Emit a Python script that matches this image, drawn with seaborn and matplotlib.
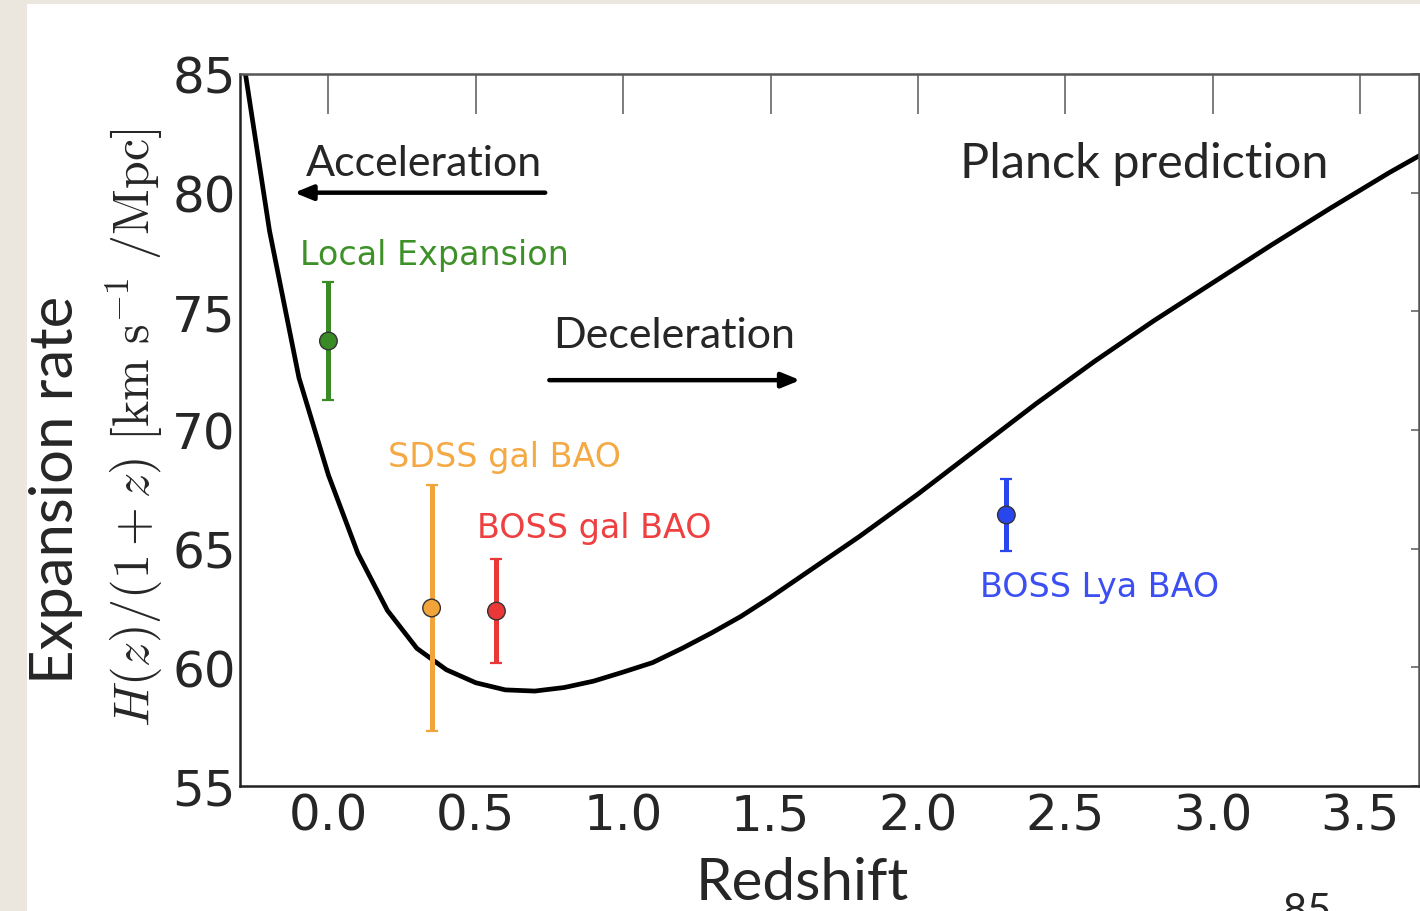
import matplotlib
matplotlib.use("Agg")
import matplotlib.pyplot as plt
from matplotlib.patches import Rectangle
import pandas as pd
import seaborn as sns

# Planck prediction curve
redshift = [-0.3, -0.2, -0.1, 0.0, 0.1, 0.2, 0.3, 0.4, 0.5, 0.6, 0.7, 0.8,
            0.9, 1.0, 1.1, 1.2, 1.3, 1.4, 1.5, 1.6, 1.7, 1.8, 1.9, 2.0, 2.2,
            2.4, 2.6, 2.8, 3.0, 3.2, 3.4, 3.6, 3.7]
expansion = [86.5, 78.4, 72.2, 68.1, 64.8, 62.4, 60.8, 59.9, 59.35, 59.05, 59.0,
             59.15, 59.42, 59.8, 60.2, 60.8, 61.45, 62.15, 62.95, 63.8, 64.65,
             65.5, 66.4, 67.3, 69.2, 71.1, 72.9, 74.6, 76.2, 77.8, 79.35, 80.85,
             81.55]

# measurements
meas_names = ["Local Expansion", "SDSS gal BAO", "BOSS gal BAO", "BOSS Lya BAO"]
meas_z = [0.0, 0.35, 0.57, 2.30]
meas_h = [73.75, 62.5, 62.37, 66.42]
meas_err = [2.48, 5.2, 2.2, 1.5]
meas_colors = ["#3a8b26", "#f2a43a", "#ea3838", "#2846ee"]
label_colors = ["#3d9128", "#f5a945", "#ee4040", "#3b4ff2"]

x_ticks = [0.0, 0.5, 1.0, 1.5, 2.0, 2.5, 3.0, 3.5]
y_ticks = [55, 60, 65, 70, 75, 80, 85]

sns.set_style("white")
plt.rcParams["font.family"] = ["DejaVu Sans"]
plt.rcParams["mathtext.fontset"] = "cm"

W, H = 1420, 912
fig = plt.figure(figsize=(W / 100, H / 100), dpi=100)
fig.patch.set_facecolor("#ebe7de")
fig.add_artist(Rectangle((27 / W, 0), 1, (H - 5) / H, transform=fig.transFigure,
                         facecolor="white", edgecolor="none", zorder=0))

ax = fig.add_axes([240 / W, 1 - 787 / H, 1179 / W, 712 / H])
ax.set_facecolor("white")

curve = pd.DataFrame({"z": redshift, "h": expansion})
sns.lineplot(data=curve, x="z", y="h", color="black", lw=3.4, sort=False,
             solid_joinstyle="round", ax=ax)

for z, h, e, c in zip(meas_z, meas_h, meas_err, meas_colors):
    ax.errorbar(z, h, yerr=e, fmt="none", ecolor=c, elinewidth=3.6,
                capsize=4, capthick=1.6, zorder=3)
meas = pd.DataFrame({"z": meas_z, "h": meas_h, "name": meas_names})
sns.scatterplot(data=meas, x="z", y="h", hue="name", palette=meas_colors,
                s=160, edgecolor="#333333", linewidth=1.0, legend=False,
                zorder=4, ax=ax)

ax.set_xlim(-0.3, 3.7)
ax.set_ylim(55, 85)
ax.set_xticks(x_ticks)
ax.set_yticks(y_ticks)
ax.set_xticklabels([f"{t:.1f}" for t in x_ticks])
ax.tick_params(axis="x", direction="in", length=29, width=1.2, color="#666666",
               top=True, labelsize=36, pad=4)
ax.tick_params(axis="y", direction="in", length=6, width=1.2, color="#666666",
               right=True, labelsize=36, pad=3)
for side in ["left", "bottom"]:
    ax.spines[side].set_color("#222222")
    ax.spines[side].set_linewidth(1.8)
for side in ["top", "right"]:
    ax.spines[side].set_color("#555555")
    ax.spines[side].set_linewidth(1.8)

ax.set_xlabel("Redshift", fontsize=42, family="Lato")
ax.xaxis.set_label_coords((802 - 240) / 1179, -0.099)
ax.set_ylabel("")

fig.text(56 / W, 1 - 490 / H, "Expansion rate", rotation=90, fontsize=43,
         family="Lato", ha="center", va="center")
fig.text(135 / W, 1 - 428 / H,
         r"$H(z)/(1+z)\ [\mathrm{km\ s}^{-1}\ /\mathrm{Mpc}]$",
         rotation=90, fontsize=36, ha="center", va="center")

# arrows and text annotations
arrow_style = dict(arrowstyle="-|>,head_length=1.1,head_width=0.45",
                   color="black", lw=3.2)
ax.text(0.325, 80.74, "Acceleration", fontsize=31, family="Lato",
        ha="center", va="baseline")
ax.annotate("", xy=(-0.125, 80.0), xytext=(0.745, 80.0), arrowprops=arrow_style)
ax.text(1.173, 73.5, "Deceleration", fontsize=31, family="Lato",
        ha="center", va="baseline")
ax.annotate("", xy=(1.61, 72.1), xytext=(0.74, 72.1), arrowprops=arrow_style)
ax.text(2.766, 80.66, "Planck prediction", fontsize=35, family="Lato",
        ha="center", va="baseline")

label_pos = [(-0.095, 77.0), (0.203, 68.48), (0.505, 65.49), (2.21, 63.0)]
for name, (lx, ly), c in zip(meas_names, label_pos, label_colors):
    ax.text(lx, ly, name, fontsize=24, color=c, ha="left", va="baseline")

# slide page number, cut by the bottom edge as on the slide
fig.text(1307 / W, 1 - 893 / H, "85", fontsize=30, family="Lato",
         ha="center", va="top")

fig.savefig("out.png", dpi=100, facecolor=fig.get_facecolor())
